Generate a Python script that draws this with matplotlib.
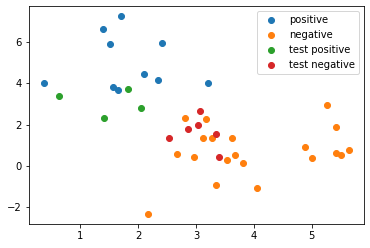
import matplotlib
matplotlib.use("Agg")
import matplotlib.pyplot as plt

# training points
pos_x = [0.38, 1.40, 1.70, 1.52, 2.42, 1.57, 1.66, 2.11, 2.35, 3.20]
pos_y = [4.00, 6.63, 7.28, 5.92, 5.96, 3.82, 3.67, 4.47, 4.17, 4.03]

neg_x = [2.18, 2.68, 2.82, 3.18, 2.97, 3.13, 3.28, 3.63, 3.54, 3.68,
         3.82, 3.35, 4.06, 4.88, 5.01, 5.26, 5.42, 5.42, 5.51, 5.64]
neg_y = [-2.34, 0.57, 2.32, 2.27, 0.42, 1.34, 1.34, 1.34, 0.28, 0.52,
         0.13, -0.94, -1.08, 0.91, 0.37, 2.95, 1.88, 0.62, 0.52, 0.76]

# test points
tpos_x = [0.64, 1.42, 1.82, 2.06]
tpos_y = [3.38, 2.33, 3.72, 2.80]

tneg_x = [2.54, 2.87, 3.04, 3.07, 3.35, 3.40]
tneg_y = [1.34, 1.78, 1.98, 2.66, 1.54, 0.42]

fig = plt.figure(figsize=(370 / 72, 248 / 72), dpi=72)
ax = fig.add_axes([29 / 370, 24 / 248, 335 / 370, 218 / 248])

ax.scatter(pos_x, pos_y, label='positive')
ax.scatter(neg_x, neg_y, label='negative')
ax.scatter(tpos_x, tpos_y, label='test positive')
ax.scatter(tneg_x, tneg_y, label='test negative')
ax.legend()

fig.savefig('out.png', dpi=72)
